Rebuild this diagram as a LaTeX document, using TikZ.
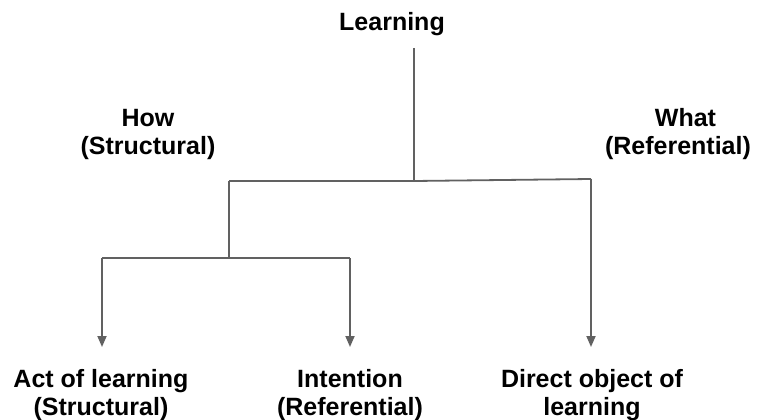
\documentclass[tikz,border=0pt]{standalone}
\usepackage{fontspec}
\setmainfont{Liberation Sans}
\usetikzlibrary{arrows.meta}
\begin{document}
\begin{tikzpicture}[x=1pt,y=-1pt,
  lbl/.style={font=\fontsize{25}{28}\selectfont\bfseries, align=center, inner sep=0pt},
  wire/.style={draw=black!62, line width=1.8pt},
  arr/.style={wire, -{Triangle[length=11pt,width=9pt]}}]
\useasboundingbox (0,0) rectangle (758,420);
% labels
\node[lbl] (learn) at (392,24) {Learning};
\node[lbl] (how) at (148,134) {How\\(Structural)};
\node[lbl] (what) at (678,134) {\hspace*{15pt}What\\(Referential)};
\node[lbl] (act) at (101,395) {Act of learning\\(Structural)};
\node[lbl] (int) at (350,395) {Intention\\(Referential)};
\node[lbl] (obj) at (592,395) {Direct object of\\learning};
% junction points
\coordinate (top) at (414,48);
\coordinate (j1) at (414,181);
\coordinate (l1) at (229,181);
\coordinate (r1) at (591,179);
\coordinate (j2) at (229,258);
\coordinate (l2) at (102,258);
\coordinate (r2) at (350,258);
\coordinate (actin) at (102,347);
\coordinate (intin) at (350,347);
\coordinate (objin) at (591,347);
% connectors
\draw[wire] (top) -- (j1);
\draw[wire] (l1) -- (j1) -- (r1);
\draw[wire] (l1) -- (j2);
\draw[wire] (l2) -- (r2);
\draw[arr] (l2) -- (actin);
\draw[arr] (r2) -- (intin);
\draw[arr] (r1) -- (objin);
\end{tikzpicture}
\end{document}
